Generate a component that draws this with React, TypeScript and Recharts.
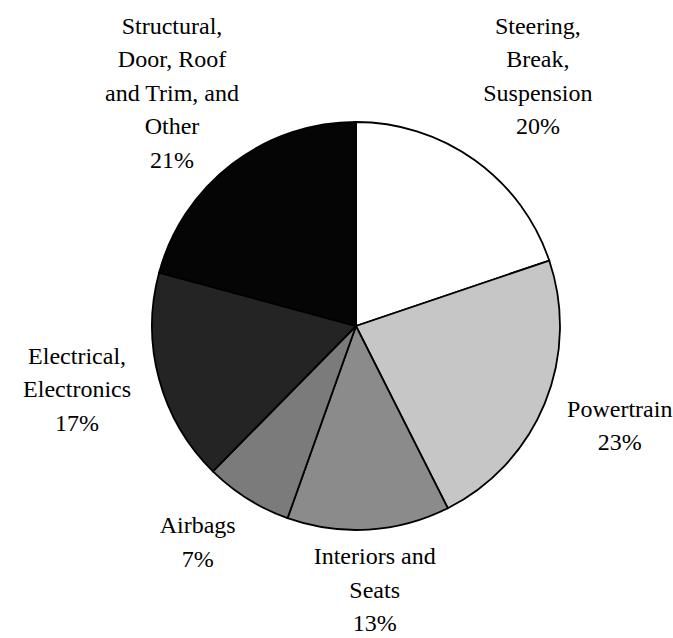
import { Cell, Pie, PieChart } from "recharts";

// Recall share by component group, clockwise from 12 o'clock
const categories = [
  ["Steering,", "Break,", "Suspension"],
  ["Powertrain"],
  ["Interiors and", "Seats"],
  ["Airbags"],
  ["Electrical,", "Electronics"],
  ["Structural,", "Door, Roof", "and Trim, and", "Other"],
];
const shares = [20, 23, 13, 7, 17, 21];

const fills = ["#ffffff", "#c6c6c6", "#8b8b8b", "#7b7b7b", "#242424", "#050505"];
// label block centre, offset from the midpoint of each slice's outer arc
const labelOffset: [number, number][] = [
  [63, -84],
  [75, 22],
  [6, 60],
  [-50, 43],
  [-82, 10],
  [-60, -71],
];

const data = shares.map((value, i) => ({ name: categories[i].join(" "), value }));

const RAD = Math.PI / 180;
const LINE_H = 33.5;
const FONT = '"Liberation Serif", "Times New Roman", serif';

function renderLabel(props: any) {
  const { cx, cy, midAngle, outerRadius, index } = props;
  const [dx, dy] = labelOffset[index];
  const x = cx + outerRadius * Math.cos(-midAngle * RAD) + dx;
  const y = cy + outerRadius * Math.sin(-midAngle * RAD) + dy;
  const lines = [...categories[index], `${shares[index]}%`];
  const top = y - ((lines.length - 1) * LINE_H) / 2 + 8;
  return (
    <text
      key={`lbl-${index}`}
      x={x}
      y={top}
      textAnchor="middle"
      fontFamily={FONT}
      fontSize={24}
      fill="#000"
    >
      {lines.map((t, i) => (
        <tspan key={i} x={x} y={top + i * LINE_H}>
          {t}
        </tspan>
      ))}
    </text>
  );
}

export default function App() {
  return (
    <div style={{ position: "absolute", left: 0, top: 0, background: "#fff" }}>
      <PieChart width={673} height={638}>
        <Pie
          data={data}
          dataKey="value"
          cx={351}
          cy={321}
          outerRadius={204}
          startAngle={90}
          endAngle={-270}
          stroke="#000"
          strokeWidth={1.8}
          label={renderLabel}
          labelLine={false}
          isAnimationActive={false}
        >
          {data.map((_, i) => (
            <Cell key={i} fill={fills[i]} />
          ))}
        </Pie>
      </PieChart>
    </div>
  );
}
